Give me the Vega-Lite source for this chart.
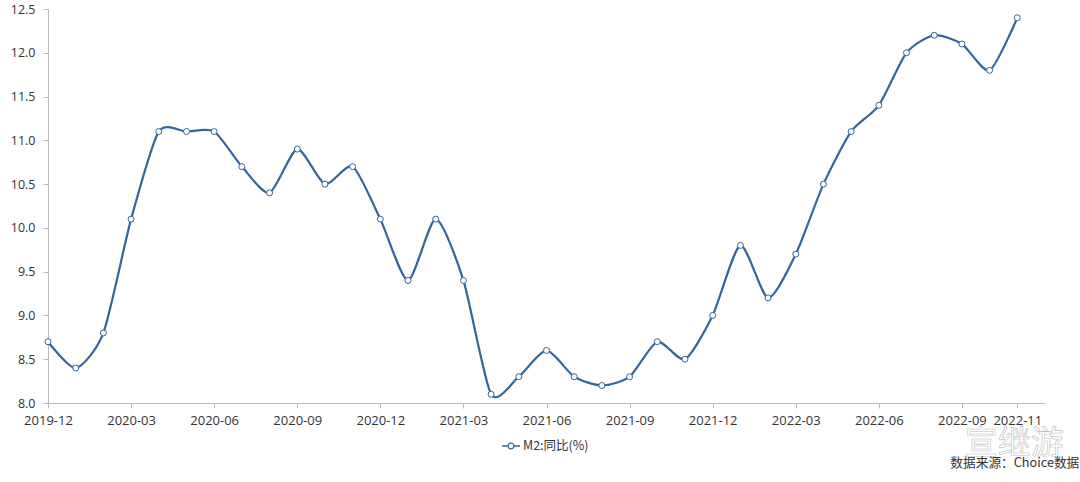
{"$schema":"https://vega.github.io/schema/vega-lite/v6.json","width":997,"height":394,"autosize":"none","padding":{"left":48,"top":9,"right":35,"bottom":79},"background":"white","config":{"view":{"stroke":null},"font":"Noto Sans CJK SC"},"datasets":{"m2":[{"month":"2019-12","value":8.7,"series":"M2:同比(%)"},{"month":"2020-01","value":8.4,"series":"M2:同比(%)"},{"month":"2020-02","value":8.8,"series":"M2:同比(%)"},{"month":"2020-03","value":10.1,"series":"M2:同比(%)"},{"month":"2020-04","value":11.1,"series":"M2:同比(%)"},{"month":"2020-05","value":11.1,"series":"M2:同比(%)"},{"month":"2020-06","value":11.1,"series":"M2:同比(%)"},{"month":"2020-07","value":10.7,"series":"M2:同比(%)"},{"month":"2020-08","value":10.4,"series":"M2:同比(%)"},{"month":"2020-09","value":10.9,"series":"M2:同比(%)"},{"month":"2020-10","value":10.5,"series":"M2:同比(%)"},{"month":"2020-11","value":10.7,"series":"M2:同比(%)"},{"month":"2020-12","value":10.1,"series":"M2:同比(%)"},{"month":"2021-01","value":9.4,"series":"M2:同比(%)"},{"month":"2021-02","value":10.1,"series":"M2:同比(%)"},{"month":"2021-03","value":9.4,"series":"M2:同比(%)"},{"month":"2021-04","value":8.1,"series":"M2:同比(%)"},{"month":"2021-05","value":8.3,"series":"M2:同比(%)"},{"month":"2021-06","value":8.6,"series":"M2:同比(%)"},{"month":"2021-07","value":8.3,"series":"M2:同比(%)"},{"month":"2021-08","value":8.2,"series":"M2:同比(%)"},{"month":"2021-09","value":8.3,"series":"M2:同比(%)"},{"month":"2021-10","value":8.7,"series":"M2:同比(%)"},{"month":"2021-11","value":8.5,"series":"M2:同比(%)"},{"month":"2021-12","value":9.0,"series":"M2:同比(%)"},{"month":"2022-01","value":9.8,"series":"M2:同比(%)"},{"month":"2022-02","value":9.2,"series":"M2:同比(%)"},{"month":"2022-03","value":9.7,"series":"M2:同比(%)"},{"month":"2022-04","value":10.5,"series":"M2:同比(%)"},{"month":"2022-05","value":11.1,"series":"M2:同比(%)"},{"month":"2022-06","value":11.4,"series":"M2:同比(%)"},{"month":"2022-07","value":12.0,"series":"M2:同比(%)"},{"month":"2022-08","value":12.2,"series":"M2:同比(%)"},{"month":"2022-09","value":12.1,"series":"M2:同比(%)"},{"month":"2022-10","value":11.8,"series":"M2:同比(%)"},{"month":"2022-11","value":12.4,"series":"M2:同比(%)"}],"mark":[{"month":"2022-11","value":7.535,"label":"宣继游"}],"source":[{"month":"2022-11","value":7.31,"label":"数据来源：Choice数据"}]},"layer":[{"data":{"name":"m2"},"mark":{"type":"line","interpolate":"cardinal","tension":0.3,"strokeWidth":2.2,"point":{"filled":true,"fill":"white","stroke":"#336699","strokeWidth":1,"size":36,"opacity":1}},"encoding":{"x":{"field":"month","type":"ordinal","scale":{"type":"point","padding":0,"domain":["2019-12","2020-01","2020-02","2020-03","2020-04","2020-05","2020-06","2020-07","2020-08","2020-09","2020-10","2020-11","2020-12","2021-01","2021-02","2021-03","2021-04","2021-05","2021-06","2021-07","2021-08","2021-09","2021-10","2021-11","2021-12","2022-01","2022-02","2022-03","2022-04","2022-05","2022-06","2022-07","2022-08","2022-09","2022-10","2022-11","2022-12"]},"axis":{"title":null,"values":["2019-12","2020-03","2020-06","2020-09","2020-12","2021-03","2021-06","2021-09","2021-12","2022-03","2022-06","2022-09","2022-11"],"labelAngle":0,"labelFont":"Open Sans","labelFontSize":13,"labelColor":"#333333","domainColor":"#bbbbbb","tickColor":"#bbbbbb","tickSize":5,"labelPadding":6,"grid":false,"labelOverlap":false,"labelFlush":false}},"y":{"field":"value","type":"quantitative","scale":{"domain":[8,12.5],"nice":false,"zero":false},"axis":{"title":null,"values":[8,8.5,9,9.5,10,10.5,11,11.5,12,12.5],"format":".1f","labelFont":"Open Sans","labelFontSize":12.5,"labelColor":"#333333","domainColor":"#bbbbbb","tickColor":"#bbbbbb","tickSize":5,"labelPadding":8,"grid":false}},"stroke":{"field":"series","type":"nominal","scale":{"range":["#336699"]},"legend":{"title":null,"orient":"none","legendX":453,"legendY":427,"labelFont":"Noto Sans CJK SC","labelFontSize":12.5,"labelColor":"#333333","symbolType":"M-1,0L-0.33,0M0.33,0L1,0M0.33,0A0.33,0.33,0,1,1,-0.33,0A0.33,0.33,0,1,1,0.33,0","symbolSize":324,"symbolStrokeWidth":1.3,"symbolFillColor":"white","labelOffset":2}}}},{"data":{"name":"mark"},"mark":{"type":"text","fontSize":33,"font":"Noto Sans CJK SC","fill":"#ffffff","stroke":"#bdbdbd","strokeWidth":0.6,"dx":-3,"clip":false},"encoding":{"x":{"field":"month","type":"ordinal"},"y":{"field":"value","type":"quantitative"},"text":{"field":"label"}}},{"data":{"name":"source"},"mark":{"type":"text","fontSize":12.7,"font":"Noto Sans CJK SC","fill":"#333333","align":"right","dx":62,"clip":false},"encoding":{"x":{"field":"month","type":"ordinal"},"y":{"field":"value","type":"quantitative"},"text":{"field":"label"}}}]}
